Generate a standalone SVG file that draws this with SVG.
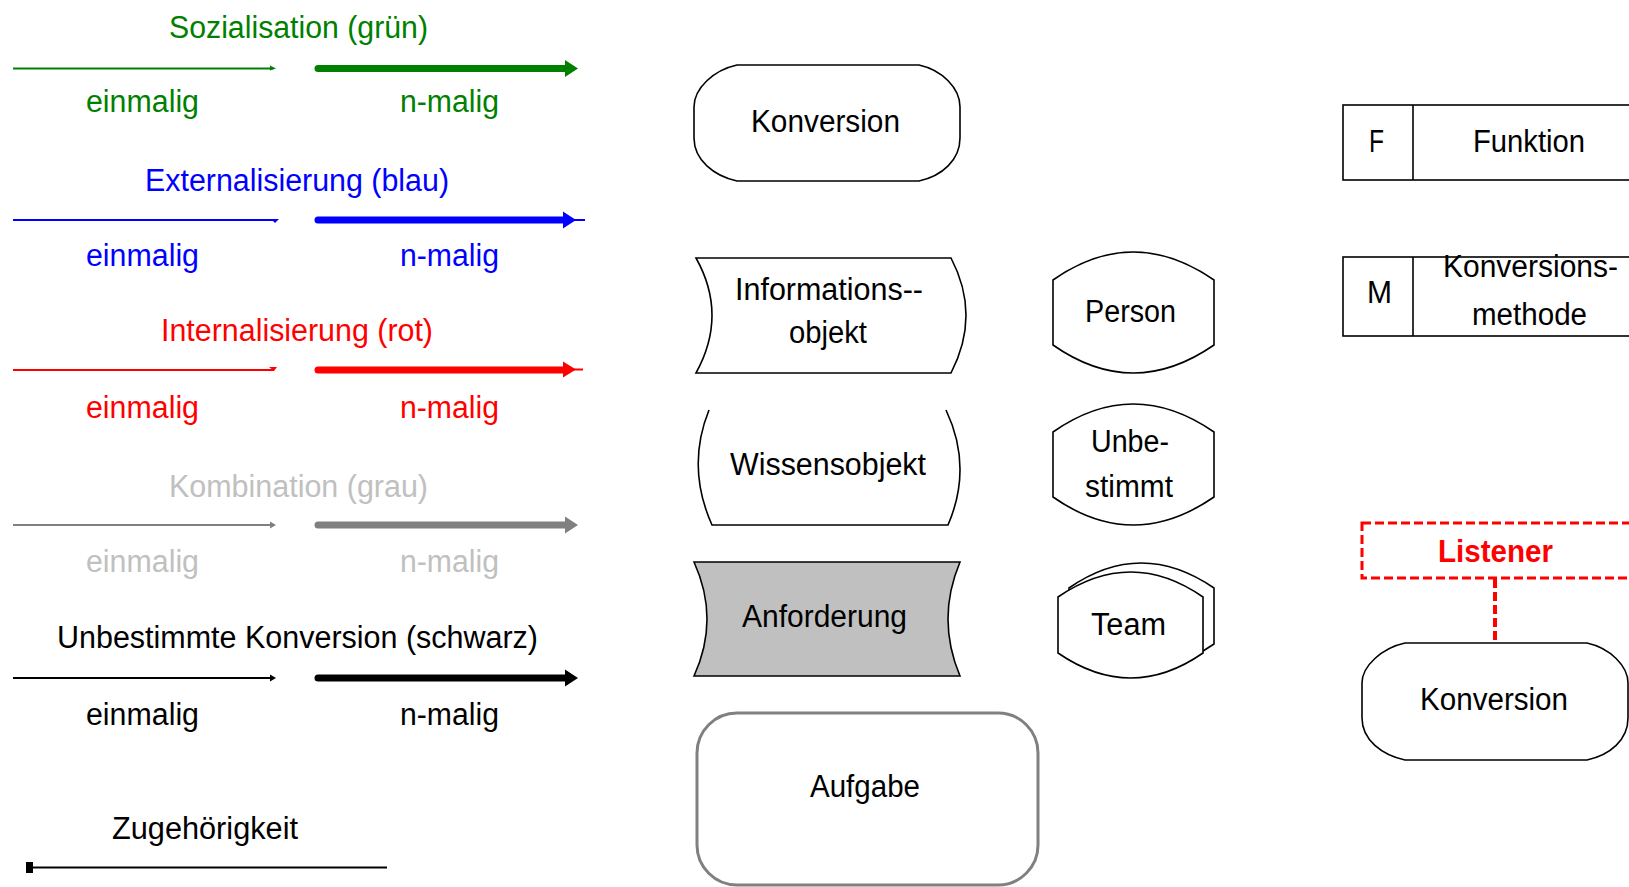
<svg xmlns="http://www.w3.org/2000/svg" width="1629" height="887" viewBox="0 0 1629 887">
  <style>
    text { font-family: "Liberation Sans", Arial, sans-serif; font-size: 31px; }
    .green { fill: #008000; }
    .blue { fill: #0000ff; }
    .red { fill: #ff0000; }
    .lgray { fill: #c0c0c0; }
    .black { fill: #000000; }
    .shape { fill: #ffffff; stroke: #000000; stroke-width: 1.6; }
    .thin { fill: none; stroke-width: 2; }
    .thick { fill: none; stroke-width: 7; stroke-linecap: round; }
    .tail { fill: none; stroke-width: 2; }
    .sg { stroke: #008000; }
    .sb { stroke: #0000ff; }
    .sr { stroke: #ff0000; }
    .sy { stroke: #808080; }
    .sk { stroke: #000000; }
    .hg { fill: #008000; }
    .hb { fill: #0000ff; }
    .hr { fill: #ff0000; }
    .hy { fill: #808080; }
    .hk { fill: #000000; }
  </style>
  <rect width="1629" height="887" fill="#ffffff"/>

  <!-- legend of connector kinds -->
  <g id="legend">
    <g id="sozialisation">
      <text class="green" x="169" y="38" textLength="259" lengthAdjust="spacingAndGlyphs">Sozialisation (grün)</text>
      <line class="thin sg" x1="13" y1="68.5" x2="273" y2="68.5"/>
      <polygon class="hg" points="270,65.5 276,68.5 270,70.5"/>
      <line class="thick sg" x1="318" y1="68.5" x2="568" y2="68.5"/>
      <polygon class="hg" points="565,60 578,68.5 565,77"/>
      <text class="green" x="86" y="112" textLength="113" lengthAdjust="spacingAndGlyphs">einmalig</text>
      <text class="green" x="400" y="112" textLength="99" lengthAdjust="spacingAndGlyphs">n-malig</text>
    </g>
    <g id="externalisierung">
      <text class="blue" x="145" y="191" textLength="304" lengthAdjust="spacingAndGlyphs">Externalisierung (blau)</text>
      <line class="thin sb" x1="13" y1="220" x2="276" y2="220"/>
      <polygon class="hb" points="271,219 279,219 275,223"/>
      <line class="thick sb" x1="318" y1="220" x2="566" y2="220"/>
      <polygon class="hb" points="563,211.5 576,220 563,228.5"/>
      <line class="tail sb" x1="572" y1="220" x2="585" y2="220"/>
      <text class="blue" x="86" y="266" textLength="113" lengthAdjust="spacingAndGlyphs">einmalig</text>
      <text class="blue" x="400" y="266" textLength="99" lengthAdjust="spacingAndGlyphs">n-malig</text>
    </g>
    <g id="internalisierung">
      <text class="red" x="161" y="341" textLength="272" lengthAdjust="spacingAndGlyphs">Internalisierung (rot)</text>
      <line class="thin sr" x1="13" y1="370" x2="274" y2="370"/>
      <polygon class="hr" points="269,367 277,367 274,371"/>
      <line class="thick sr" x1="318" y1="370" x2="566" y2="370"/>
      <polygon class="hr" points="563,361.5 576,369.5 563,377.5"/>
      <line class="tail sr" x1="572" y1="369.5" x2="583" y2="369.5"/>
      <text class="red" x="86" y="418" textLength="113" lengthAdjust="spacingAndGlyphs">einmalig</text>
      <text class="red" x="400" y="418" textLength="99" lengthAdjust="spacingAndGlyphs">n-malig</text>
    </g>
    <g id="kombination">
      <text class="lgray" x="169" y="497" textLength="259" lengthAdjust="spacingAndGlyphs">Kombination (grau)</text>
      <line class="thin sy" x1="13" y1="525" x2="272" y2="525"/>
      <polygon class="hy" points="270,521.5 276,525 270,528.5"/>
      <line class="thick sy" x1="318" y1="525" x2="568" y2="525"/>
      <polygon class="hy" points="565,516.5 578,525 565,533.5"/>
      <text class="lgray" x="86" y="572" textLength="113" lengthAdjust="spacingAndGlyphs">einmalig</text>
      <text class="lgray" x="400" y="572" textLength="99" lengthAdjust="spacingAndGlyphs">n-malig</text>
    </g>
    <g id="unbestimmte-konversion">
      <text class="black" x="57" y="648" textLength="481" lengthAdjust="spacingAndGlyphs">Unbestimmte Konversion (schwarz)</text>
      <line class="thin sk" x1="13" y1="678" x2="272" y2="678"/>
      <polygon class="hk" points="270,674.5 276,678 270,681.5"/>
      <line class="thick sk" x1="318" y1="678" x2="568" y2="678"/>
      <polygon class="hk" points="565,669.5 578,678 565,686.5"/>
      <text class="black" x="86" y="725" textLength="113" lengthAdjust="spacingAndGlyphs">einmalig</text>
      <text class="black" x="400" y="725" textLength="99" lengthAdjust="spacingAndGlyphs">n-malig</text>
    </g>
    <g id="zugehoerigkeit">
      <text class="black" x="112" y="839" textLength="186" lengthAdjust="spacingAndGlyphs">Zugehörigkeit</text>
      <line class="thin sk" x1="27" y1="867.5" x2="387" y2="867.5"/>
      <rect class="hk" x="26" y="862" width="7" height="11"/>
    </g>
  </g>

  <!-- connectors -->
  <g id="connectors">
    <line x1="1495" y1="579" x2="1495" y2="642" stroke="#ff0000" stroke-width="4" stroke-dasharray="9 4"/>
  </g>

  <g id="konversion">
    <path class="shape" d="M737,65 L919,65 C942,70 960,88 960,107 L960,138 C960,160 942,176 919,181 L737,181 C714,176 694,160 694,138 L694,107 C694,88 714,70 737,65 Z"/>
    <text x="751" y="132" textLength="149" lengthAdjust="spacingAndGlyphs">Konversion</text>
  </g>

  <g id="informationsobjekt">
    <path class="shape" d="M696,258 L951,258 Q981,315 951,373 L696,373 Q728,315 696,258 Z"/>
    <text x="735" y="300" textLength="188" lengthAdjust="spacingAndGlyphs">Informations--</text>
    <text x="789" y="343" textLength="78" lengthAdjust="spacingAndGlyphs">objekt</text>
  </g>

  <g id="wissensobjekt">
    <path class="shape" d="M709,410 Q686,467 712,525 L948,525 Q973,467 946,410"/>
    <text x="730" y="475" textLength="196" lengthAdjust="spacingAndGlyphs">Wissensobjekt</text>
  </g>

  <g id="anforderung">
    <path class="shape" style="fill:#c0c0c0" d="M694,562 L960,562 Q936,619 960,676 L694,676 Q720,619 694,562 Z"/>
    <text x="742" y="627" textLength="165" lengthAdjust="spacingAndGlyphs">Anforderung</text>
  </g>

  <g id="aufgabe">
    <rect x="697" y="713" width="341" height="172" rx="40" ry="40" fill="#ffffff" stroke="#808080" stroke-width="3"/>
    <text x="810" y="797" textLength="110" lengthAdjust="spacingAndGlyphs">Aufgabe</text>
  </g>

  <g id="person">
    <path class="shape" d="M1053,280 Q1133,224 1214,280 L1214,345 Q1133,401 1053,345 Z"/>
    <text x="1085" y="322" textLength="91" lengthAdjust="spacingAndGlyphs">Person</text>
  </g>

  <g id="unbestimmt">
    <path class="shape" d="M1053,432 Q1133,376 1214,432 L1214,497 Q1133,553 1053,497 Z"/>
    <text x="1091" y="452" textLength="78" lengthAdjust="spacingAndGlyphs">Unbe-</text>
    <text x="1085" y="497" textLength="88" lengthAdjust="spacingAndGlyphs">stimmt</text>
  </g>

  <g id="team">
    <path class="shape" d="M1069,588 Q1141,538 1214,588 L1214,644 Q1141,694 1069,644 Z"/>
    <path class="shape" d="M1058,597 Q1131,547 1203,597 L1203,653 Q1131,703 1058,653 Z"/>
    <text x="1091" y="635" textLength="75" lengthAdjust="spacingAndGlyphs">Team</text>
  </g>

  <g id="funktion">
    <rect class="shape" x="1343" y="105" width="300" height="75"/>
    <line x1="1413" y1="105" x2="1413" y2="180" stroke="#000000" stroke-width="1.6"/>
    <text x="1369" y="152" textLength="15" lengthAdjust="spacingAndGlyphs">F</text>
    <text x="1473" y="152" textLength="112" lengthAdjust="spacingAndGlyphs">Funktion</text>
  </g>

  <g id="konversionsmethode">
    <rect class="shape" x="1343" y="257" width="300" height="79"/>
    <line x1="1413" y1="257" x2="1413" y2="336" stroke="#000000" stroke-width="1.6"/>
    <text x="1367" y="303" textLength="25" lengthAdjust="spacingAndGlyphs">M</text>
    <text x="1443" y="277" textLength="175" lengthAdjust="spacingAndGlyphs">Konversions-</text>
    <text x="1472" y="325" textLength="115" lengthAdjust="spacingAndGlyphs">methode</text>
  </g>

  <g id="listener">
    <rect x="1362" y="523" width="300" height="55" fill="none" stroke="#ff0000" stroke-width="3" stroke-dasharray="9 4"/>
    <text x="1438" y="562" textLength="115" lengthAdjust="spacingAndGlyphs" style="fill:#ff0000;font-weight:bold">Listener</text>
  </g>

  <g id="konversion-listener">
    <path class="shape" d="M1405,643 L1587,643 C1610,648 1628,666 1628,683 L1628,718 C1628,740 1610,755 1587,760 L1405,760 C1382,755 1362,740 1362,718 L1362,683 C1362,666 1382,648 1405,643 Z"/>
    <text x="1420" y="710" textLength="148" lengthAdjust="spacingAndGlyphs">Konversion</text>
  </g>
</svg>
